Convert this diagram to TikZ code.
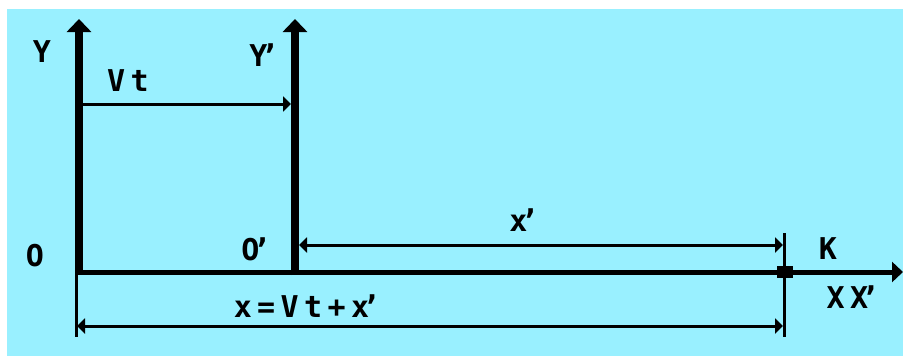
\documentclass[tikz,border=0pt]{standalone}
\usepackage{fontspec}
\newfontfamily\pix{DejaVu Sans Mono}[LetterSpace=18]
\usetikzlibrary{arrows.meta}
\definecolor{bgcyan}{RGB}{153,240,255}
\newcommand\prm{\kern-7pt’}
\tikzset{
  axis/.style={line width=#1, -{Triangle[width=24pt,length=13pt]}},
  dimline/.style={line width=3pt},
  dimtip/.tip={Triangle[width=15pt,length=8pt]},
  lbl/.style={font=\pix\bfseries\fontsize{30}{30}\selectfont, inner sep=0pt, text=black}
}
\begin{document}
\begin{tikzpicture}[x=1pt,y=-1pt]
\useasboundingbox (0,0) rectangle (903,356);
\fill[white] (0,0) rectangle (903,356);
\fill[bgcyan] (7,9) rectangle (903,356);
% key points
\coordinate (O) at (79,272);
\coordinate (Ytop) at (79,19);
\coordinate (Op) at (295,272);
\coordinate (Yptop) at (295,19);
\coordinate (Xend) at (903,272);
\coordinate (Kpt) at (785,272);
% axes
\draw[line width=5pt, -{Triangle[width=20pt,length=11pt]}] (O) -- (Xend);
\draw[axis=8pt] ([yshift=-3pt]O) -- (Ytop);
\draw[axis=8pt] ([yshift=-3pt]Op) -- (Yptop);
% K point
\node[fill=black, minimum width=16pt, minimum height=12pt, inner sep=0pt] (K) at (Kpt) {};
% dimension ticks
\coordinate (t1a) at (784,233); \coordinate (t1b) at (784,337);
\coordinate (t2a) at (76,275);  \coordinate (t2b) at (76,337);
\draw[dimline] (t1a) -- (t1b);
\draw[dimline] (t2a) -- (t2b);
% Vt arrow
\coordinate (vta) at (83,104); \coordinate (vtb) at (291,104);
\draw[dimline, -{dimtip}] (vta) -- (vtb);
% x' arrow
\coordinate (xpa) at (299,245); \coordinate (xpb) at (783,245);
\draw[dimline, {dimtip}-{dimtip}] (xpa) -- (xpb);
% x arrow
\coordinate (xa) at (77,326); \coordinate (xb) at (783,326);
\draw[dimline, {dimtip}-{dimtip}] (xa) -- (xb);
% labels
\node[lbl] (lY) at (42,52) {Y};
\node[lbl] (lVt) at (128,81) {Vt};
\node[lbl] (lYp) at (264,55) {Y\prm};
\node[lbl] (lO) at (35,256) {O};
\node[lbl] (lOp) at (256,249) {O\prm};
\node[lbl] (lxp) at (524,220) {x\prm};
\node[lbl] (lK) at (828,249) {K};
\node[lbl] (lXX) at (853,297) {XX\prm};
\node[lbl] (lx) at (307,306) {x=Vt+x\prm};
\end{tikzpicture}
\end{document}
